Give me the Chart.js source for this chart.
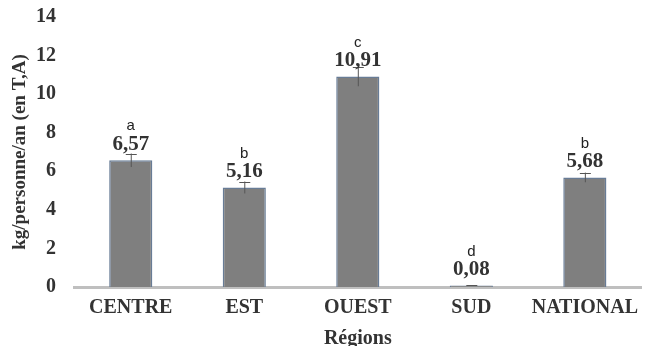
<!DOCTYPE html>
<html>
<head>
<meta charset="utf-8">
<script src="https://cdn.jsdelivr.net/npm/chart.js@4"></script>
<style>
  html, body { margin: 0; padding: 0; background: #fff; overflow: hidden; }
  #wrap { width: 647px; height: 346px; }
</style>
</head>
<body>
<div id="wrap"><canvas id="c" width="647" height="346"></canvas></div>
<script>
// Consommation moyenne par région (kg/personne/an, en T,A)
const regions = ['CENTRE', 'EST', 'OUEST', 'SUD', 'NATIONAL'];
const valeurs = [6.57, 5.16, 10.91, 0.08, 5.68];
const erreurs = [0.35, 0.31, 0.5, 0.02, 0.25];
const lettres = ['a', 'b', 'c', 'd', 'b'];
const yTicks = [0, 2, 4, 6, 8, 10, 12, 14];

const serif = '"Liberation Serif", "Times New Roman", serif';
const sans = '"Liberation Sans", Arial, sans-serif';

// Barres d'erreur, valeurs et lettres de groupes au-dessus des barres
const annotations = {
  id: 'annotations',
  afterDatasetsDraw(chart) {
    const ctx = chart.ctx;
    const meta = chart.getDatasetMeta(0);
    const y = chart.scales.y;
    ctx.save();
    meta.data.forEach((bar, i) => {
      const x = bar.x;
      const top = y.getPixelForValue(valeurs[i]);
      const hi = y.getPixelForValue(valeurs[i] + erreurs[i]);
      const lo = y.getPixelForValue(valeurs[i] - erreurs[i]);
      // barre d'erreur
      ctx.strokeStyle = '#555';
      ctx.lineWidth = 1;
      ctx.beginPath();
      ctx.moveTo(x + 0.5, lo);
      ctx.lineTo(x + 0.5, hi);
      ctx.moveTo(x - 5, Math.round(hi) + 0.5);
      ctx.lineTo(x + 6, Math.round(hi) + 0.5);
      ctx.stroke();
      // valeur
      ctx.fillStyle = '#333';
      ctx.textAlign = 'center';
      ctx.textBaseline = 'middle';
      ctx.font = 'bold 21px ' + serif;
      ctx.fillText(valeurs[i].toFixed(2).replace('.', ','), x, top - 16);
      // lettre
      ctx.fillStyle = '#222';
      ctx.font = '15px ' + sans;
      ctx.fillText(lettres[i], x, top - 34);
    });
    ctx.restore();
  }
};

new Chart(document.getElementById('c'), {
  type: 'bar',
  data: {
    labels: regions,
    datasets: [{
      data: valeurs,
      backgroundColor: '#7f7f7f',
      borderColor: '#687c96',
      borderWidth: 1.5,
      barPercentage: 0.38,
      categoryPercentage: 1.0
    }]
  },
  options: {
    responsive: false,
    animation: false,
    layout: { padding: { top: 17, right: 0, left: 0, bottom: 0 } },
    plugins: { legend: { display: false }, tooltip: { enabled: false } },
    scales: {
      x: {
        grid: { display: false, drawTicks: false },
        border: { display: true, color: '#bfbfbf', width: 3 },
        ticks: {
          color: '#333',
          padding: 9,
          font: { family: serif, size: 20, weight: 'bold' }
        },
        title: {
          display: true,
          text: 'Régions',
          color: '#333',
          padding: { top: 0, bottom: -3 },
          font: { family: serif, size: 20, weight: 'bold', lineHeight: 1.0 }
        },
        afterFit(scale) { scale.height = 59; }
      },
      y: {
        min: 0,
        max: 14,
        grid: { display: false, drawTicks: false },
        border: { display: false },
        afterBuildTicks(scale) { scale.ticks = yTicks.map(v => ({ value: v })); },
        ticks: {
          color: '#333',
          padding: 18,
          font: { family: serif, size: 20, weight: 'bold' }
        },
        title: {
          display: true,
          text: 'kg/personne/an (en T,A)',
          color: '#333',
          padding: { top: 9, bottom: 0 },
          font: { family: serif, size: 19, weight: 'bold', lineHeight: 1.2 }
        },
        afterFit(scale) {
          scale.width = 74;
          scale.paddingTop = 0;
          scale.paddingBottom = 0;
        }
      }
    }
  },
  plugins: [annotations]
});
</script>
</body>
</html>
